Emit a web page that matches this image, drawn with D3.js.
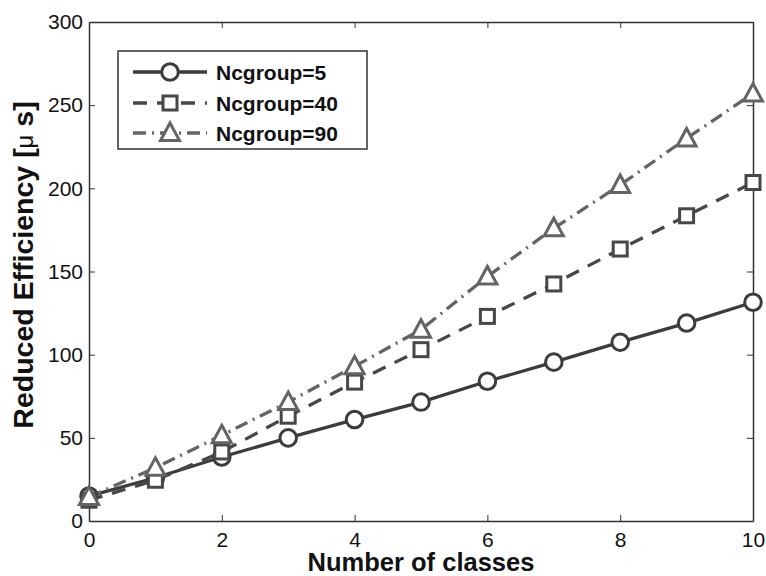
<!DOCTYPE html>
<html><head><meta charset="utf-8">
<script src="https://cdn.jsdelivr.net/npm/d3@7"></script>
<style>body{margin:0;background:#fff}svg{display:block}</style>
</head><body>
<script>
const xValues = [0,1,2,3,4,5,6,7,8,9,10];
const seriesNames = ["Ncgroup=5","Ncgroup=40","Ncgroup=90"];
const ncgroup5  = [15,26,38.5,50,61,71.5,84,95.5,107.5,119,131.5];
const ncgroup40 = [12.5,24.5,41.5,63,83.5,103,123,142.5,163.5,183.5,203.5];
const ncgroup90 = [14.5,32,51.5,71.5,93,115,147,176,202,230,257];
const xTicks = [0,2,4,6,8,10];
const yTicks = [0,50,100,150,200,250,300];

const W=766,H=576;
const svg=d3.select("body").append("svg").attr("width",W).attr("height",H);
const L=89,R=753,T=22,B=521;
const x=d3.scaleLinear().domain([0,10]).range([L,R]);
const y=d3.scaleLinear().domain([0,300]).range([B,T]);
const font="Liberation Sans, Arial, Helvetica, sans-serif";

const axisColor="#333";
const gB=svg.append("g").attr("transform",`translate(0,${B})`).call(d3.axisBottom(x).tickValues(xTicks).tickSizeInner(-6).tickSizeOuter(0).tickPadding(11));
const gT=svg.append("g").attr("transform",`translate(0,${T})`).call(d3.axisTop(x).tickValues(xTicks).tickSizeInner(-6).tickSizeOuter(0).tickFormat(""));
const gL=svg.append("g").attr("transform",`translate(${L},0)`).call(d3.axisLeft(y).tickValues(yTicks).tickSizeInner(-6).tickSizeOuter(0).tickPadding(6));
const gR=svg.append("g").attr("transform",`translate(${R},0)`).call(d3.axisRight(y).tickValues(yTicks).tickSizeInner(-6).tickSizeOuter(0).tickFormat(""));
[gB,gT,gL,gR].forEach(g=>{g.select(".domain").attr("stroke",axisColor).attr("stroke-width",1.5);
 g.selectAll(".tick line").attr("stroke",axisColor).attr("stroke-width",1);
 g.selectAll("text").attr("font-family",font).attr("font-size",21).attr("fill","#111");});

svg.append("text").attr("x",421).attr("y",571).attr("text-anchor","middle")
 .attr("font-family",font).attr("font-weight","bold").attr("font-size",25.5).attr("fill","#111").text("Number of classes");
const yl=svg.append("text").attr("transform",`translate(33,265) rotate(-90)`).attr("text-anchor","middle")
 .attr("font-family",font).attr("font-weight","bold").attr("font-size",28.5).attr("fill","#111");
yl.append("tspan").text("Reduced Efficiency [");
yl.append("tspan").attr("font-weight","normal").attr("font-size",24).text("μ");
yl.append("tspan").text(" s]");

const series=[
 {name:seriesNames[0],vals:ncgroup5,color:"#3c3c3c",dash:null,marker:"circle"},
 {name:seriesNames[1],vals:ncgroup40,color:"#474747",dash:"14,10",marker:"square"},
 {name:seriesNames[2],vals:ncgroup90,color:"#646464",dash:"13,6,2,6",marker:"triangle"}
];
const line=d3.line().x((d,i)=>x(xValues[i])).y(d=>y(d));

function drawMarker(g,type,cx,cy,color){
 if(type==="circle") g.append("circle").attr("cx",cx).attr("cy",cy).attr("r",8.3).attr("fill","#fff").attr("stroke",color).attr("stroke-width",3);
 else if(type==="square") g.append("rect").attr("x",cx-7).attr("y",cy-7).attr("width",14).attr("height",14).attr("fill","#fff").attr("stroke",color).attr("stroke-width",3);
 else g.append("path").attr("d",`M${cx},${cy-10}L${cx+9.5},${cy+7.5}L${cx-9.5},${cy+7.5}Z`).attr("fill","#fff").attr("stroke",color).attr("stroke-width",3).attr("stroke-linejoin","miter");
}

const plot=svg.append("g");
series.forEach(s=>{
 plot.append("path").datum(s.vals).attr("d",line).attr("fill","none").attr("stroke",s.color).attr("stroke-width",3.3)
  .attr("stroke-dasharray",s.dash);
});
series.forEach(s=>{
 s.vals.forEach((v,i)=>drawMarker(plot,s.marker,x(xValues[i]),y(v),s.color));
});

const lg=svg.append("g");
lg.append("rect").attr("x",118).attr("y",51).attr("width",249).attr("height",98).attr("fill","#fff").attr("stroke","#333").attr("stroke-width",1.5);
const rows=[72,103,133];
series.forEach((s,i)=>{
 lg.append("line").attr("x1",133).attr("x2",207).attr("y1",rows[i]).attr("y2",rows[i]).attr("stroke",s.color).attr("stroke-width",3.3).attr("stroke-dasharray",s.dash);
 drawMarker(lg,s.marker,170,rows[i],s.color);
 lg.append("text").attr("x",216).attr("y",rows[i]+7.5).attr("font-family",font).attr("font-weight","bold").attr("font-size",21).attr("fill","#111").text(s.name);
});
</script>
</body></html>
